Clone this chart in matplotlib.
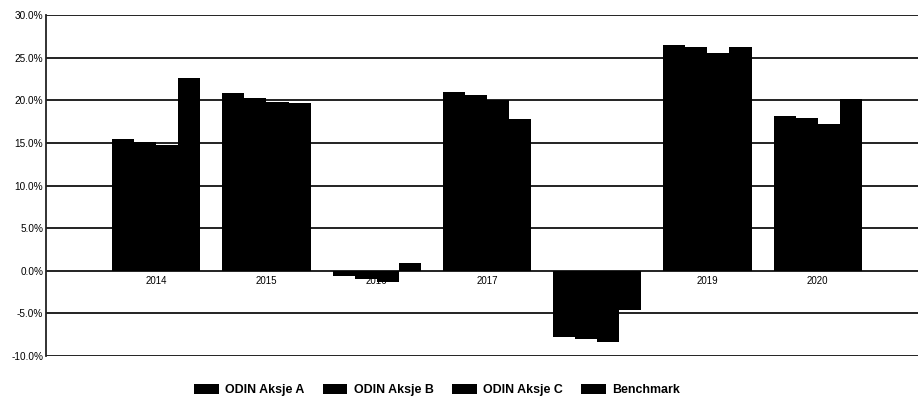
import matplotlib
matplotlib.use("Agg")
import matplotlib.pyplot as plt
import numpy as np

years = ["2014", "2015", "2016", "2017", "2018", "2019", "2020"]
series_names = ["ODIN Aksje A", "ODIN Aksje B", "ODIN Aksje C", "Benchmark"]
odin_a = [15.4, 20.8, -0.6, 21.0, -7.8, 26.5, 18.15]
odin_b = [15.1, 20.3, -0.95, 20.6, -8.0, 26.3, 17.95]
odin_c = [14.8, 19.8, -1.35, 20.0, -8.4, 25.6, 17.25]
benchmark = [22.65, 19.65, 0.95, 17.75, -4.6, 26.3, 20.1]
y_ticks = [-10, -5, 0, 5, 10, 15, 20, 25, 30]

plt.rcParams['font.family'] = ['Liberation Sans', 'DejaVu Sans']

fig = plt.figure(figsize=(9.18, 4.01), dpi=100)
ax = fig.add_axes([46/918, 1-356/401, 1-46/918, (356-15)/401])

x = np.arange(len(years))
w = 0.2
all_series = [odin_a, odin_b, odin_c, benchmark]
handles = []
for i, vals in enumerate(all_series):
    b = ax.bar(x + (i - 1.5) * w, vals, width=w, color='black', zorder=3,
               label=series_names[i], linewidth=0)
    handles.append(b)

for t in y_ticks:
    ax.axhline(t, color='#222222', lw=1.4, zorder=1)

for xi, yr in zip(x, years):
    ax.annotate(yr, (xi, 0), xytext=(0, -3.5), textcoords='offset points',
                ha='center', va='top', fontsize=7, zorder=2)

ax.set_xlim(-1.0, 6.91)
ax.set_ylim(-10, 30)
ax.set_yticks(y_ticks)
ax.set_yticklabels([f"{t:.1f}%" for t in y_ticks], fontsize=7.2)
ax.set_xticks([])
ax.tick_params(axis='y', length=0, pad=2)
for s in ['top', 'right', 'bottom']:
    ax.spines[s].set_visible(False)
ax.spines['left'].set_color('#222222')
ax.spines['left'].set_linewidth(1.3)
ax.spines['left'].set_zorder(4)

leg = fig.legend(handles=handles, labels=series_names, loc='center',
                 bbox_to_anchor=(437/918, 1-390/401), ncol=4, frameon=False,
                 prop={'weight': 'bold', 'size': 8.9}, handlelength=2.0,
                 handleheight=0.85, handletextpad=0.5, columnspacing=1.5)

fig.savefig("out.png", dpi=100)
